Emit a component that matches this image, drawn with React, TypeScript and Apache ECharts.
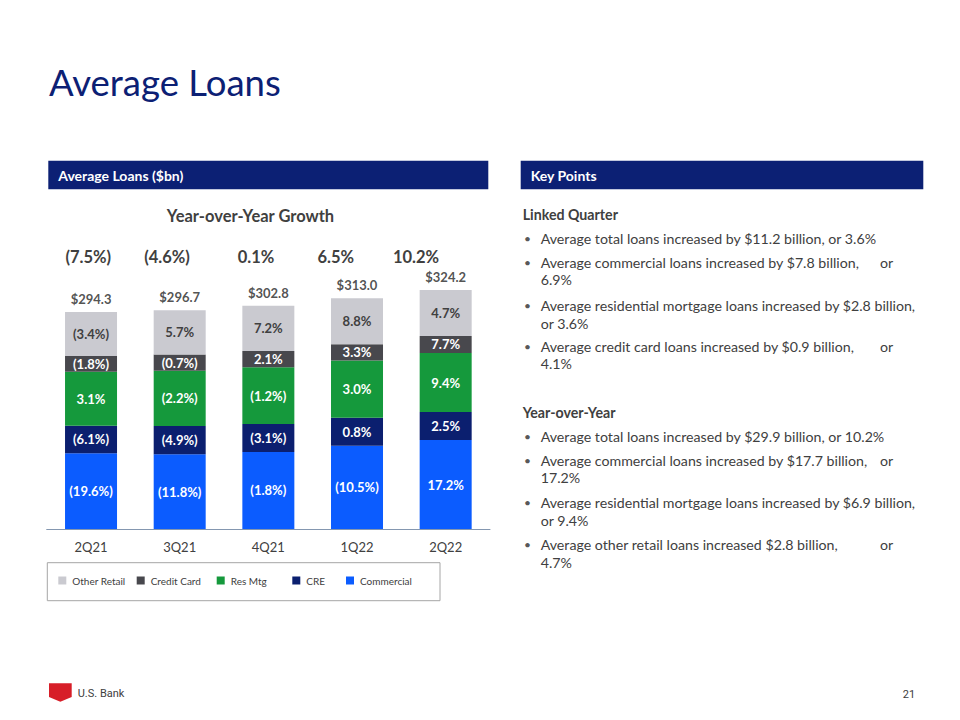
import React, { useEffect, useRef } from "react";
import * as echarts from "echarts";

const categories = ["2Q21", "3Q21", "4Q21", "1Q22", "2Q22"];
const commercial = [102.9, 101.5, 104.6, 112.8, 120.6];
const cre = [37.1, 38.2, 38.0, 38.3, 38.0];
const resMtg = [73.4, 75.0, 77.0, 77.5, 80.3];
const creditCard = [21.3, 22.2, 22.0, 22.0, 22.9];
const otherRetail = [59.6, 59.8, 61.2, 62.4, 62.4];
const totals = [294.3, 296.7, 302.8, 313.0, 324.2];

const commercialGrowth = ["(19.6%)", "(11.8%)", "(1.8%)", "(10.5%)", "17.2%"];
const creGrowth = ["(6.1%)", "(4.9%)", "(3.1%)", "0.8%", "2.5%"];
const resMtgGrowth = ["3.1%", "(2.2%)", "(1.2%)", "3.0%", "9.4%"];
const creditCardGrowth = ["(1.8%)", "(0.7%)", "2.1%", "3.3%", "7.7%"];
const otherRetailGrowth = ["(3.4%)", "5.7%", "7.2%", "8.8%", "4.7%"];
const totalGrowth = ["(7.5%)", "(4.6%)", "0.1%", "6.5%", "10.2%"];

const legendOrder = ["Other Retail", "Credit Card", "Res Mtg", "CRE", "Commercial"];

const linkedQuarterBullets = [
  { first: "Average total loans increased by $11.2 billion, or 3.6%", or: false, second: "" },
  { first: "Average commercial loans increased by $7.8 billion,", or: true, second: "6.9%" },
  { first: "Average residential mortgage loans increased by $2.8 billion,", or: false, second: "or 3.6%" },
  { first: "Average credit card loans increased by $0.9 billion,", or: true, second: "4.1%" },
];
const yoyBullets = [
  { first: "Average total loans increased by $29.9 billion, or 10.2%", or: false, second: "" },
  { first: "Average commercial loans increased by $17.7 billion,", or: true, second: "17.2%" },
  { first: "Average residential mortgage loans increased by $6.9 billion,", or: false, second: "or 9.4%" },
  { first: "Average other retail loans increased $2.8 billion,", or: true, second: "4.7%" },
];

const FONT = "Lato, 'Open Sans', sans-serif";
const NAVY = "#0C2074";
const TEXT = "#404040";

function txt(x: number, y: number, text: string, size: number, opts: any = {}) {
  return {
    type: "text",
    x,
    y,
    silent: true,
    style: {
      text,
      fontSize: size,
      fontFamily: opts.family || FONT,
      fontWeight: opts.bold ? "bold" : "normal",
      fill: opts.color || TEXT,
      textAlign: opts.align || "left",
      align: opts.align || "left",
      textVerticalAlign: "middle",
      verticalAlign: "middle",
    },
  };
}

export default function App() {
  const ref = useRef<HTMLDivElement>(null);

  useEffect(() => {
    if (!ref.current) return;
    const chart = echarts.init(ref.current, null, { renderer: "svg" });

    const defs = [
      { name: "Commercial", data: commercial, labels: commercialGrowth, color: "#0B5CFF", lc: "#ffffff" },
      { name: "CRE", data: cre, labels: creGrowth, color: "#0B1F6F", lc: "#ffffff" },
      { name: "Res Mtg", data: resMtg, labels: resMtgGrowth, color: "#15993C", lc: "#ffffff" },
      { name: "Credit Card", data: creditCard, labels: creditCardGrowth, color: "#48484D", lc: "#ffffff" },
      { name: "Other Retail", data: otherRetail, labels: otherRetailGrowth, color: "#CACAD0", lc: "#404040" },
    ];

    const series: any[] = defs.map((d) => ({
      name: d.name,
      type: "bar",
      stack: "total",
      barWidth: 52,
      data: d.data,
      itemStyle: { color: d.color },
      label: {
        show: true,
        position: "inside",
        formatter: (p: any) => d.labels[p.dataIndex],
        color: d.lc,
        fontFamily: FONT,
        fontWeight: "bold",
        fontSize: 13,
      },
      emphasis: { disabled: true },
    }));
    series.push({
      name: "Total",
      type: "scatter",
      data: totals,
      symbolSize: 1,
      itemStyle: { color: "rgba(0,0,0,0)" },
      label: {
        show: true,
        position: "top",
        distance: 6,
        formatter: (p: any) => "$" + totals[p.dataIndex].toFixed(1),
        color: "#262626",
        fontFamily: FONT,
        fontWeight: "bold",
        fontSize: 13,
      },
      emphasis: { disabled: true },
      z: 5,
    });

    const legendX = [58.3, 136.7, 216.7, 292.3, 346];
    const legends = legendOrder.map((n, i) => ({
      data: [n],
      left: legendX[i],
      top: 575.5,
      padding: 0,
      itemWidth: 8,
      itemHeight: 8,
      itemGap: 0,
      icon: "rect",
      selectedMode: false,
      textStyle: { fontSize: 10, color: TEXT, fontFamily: FONT, padding: [0, 0, 0, 1] },
    }));

    const growthX = [88.3, 167, 256, 335.7, 416];
    const graphics: any[] = [];
    graphics.push(txt(49, 82, "Average Loans", 36.5, { color: NAVY }));
    graphics.push({ type: "rect", shape: { x: 48.3, y: 160.7, width: 440, height: 28.5 }, style: { fill: NAVY }, silent: true });
    graphics.push({ type: "rect", shape: { x: 520.7, y: 160.7, width: 402.6, height: 28.5 }, style: { fill: NAVY }, silent: true });
    graphics.push(txt(58.3, 175, "Average Loans ($bn)", 14, { bold: true, color: "#ffffff" }));
    graphics.push(txt(530.7, 175, "Key Points", 14, { bold: true, color: "#ffffff" }));
    graphics.push(txt(250.5, 215.5, "Year-over-Year Growth", 16.5, { bold: true, align: "center" }));
    totalGrowth.forEach((g, i) => graphics.push(txt(growthX[i], 256.5, g, 16.5, { bold: true, align: "center" })));
    graphics.push({ type: "rect", shape: { x: 47.3, y: 562.7, width: 392.7, height: 38 }, style: { fill: "none", stroke: "#A6A6A6", lineWidth: 1 }, silent: true });

    const bodySize = 14.2;
    const addBlock = (headerY: number, header: string, bullets: any[], ys: number[][]) => {
      graphics.push(txt(522.7, headerY, header, bodySize, { bold: true }));
      bullets.forEach((b, i) => {
        graphics.push(txt(524, ys[i][0], "•", 12, { color: "#595959" }));
        graphics.push(txt(540.7, ys[i][0], b.first, bodySize));
        if (b.or) graphics.push(txt(880, ys[i][0], "or", bodySize));
        if (b.second) graphics.push(txt(540.7, ys[i][1], b.second, bodySize));
      });
    };
    addBlock(214.5, "Linked Quarter", linkedQuarterBullets, [[238.5], [262, 279.5], [305.5, 323], [346, 363.5]]);
    addBlock(412.5, "Year-over-Year", yoyBullets, [[436], [460, 477.5], [502.5, 520], [544.5, 562]]);

    graphics.push({
      type: "polygon",
      shape: { points: [[49, 683.3], [71.7, 683.3], [71.7, 697], [60.3, 701.7], [49, 697]] },
      style: { fill: "#D71E28" },
      silent: true,
    });
    graphics.push(txt(77.7, 693.3, "U.S. Bank", 11, { family: "'Liberation Sans Narrow', 'Arial Narrow', 'Roboto', sans-serif" }));
    graphics.push(txt(902.7, 694, "21", 11, { family: "'Liberation Sans Narrow', 'Arial Narrow', 'Roboto', sans-serif" }));

    chart.setOption({
      animation: false,
      backgroundColor: "#ffffff",
      grid: { left: 46.7, right: 470, top: 234.2, bottom: 191, containLabel: false },
      xAxis: {
        type: "category",
        data: categories,
        axisLine: { lineStyle: { color: "#8497B0", width: 1 } },
        axisTick: { show: false },
        axisLabel: { color: TEXT, fontSize: 13, fontFamily: FONT, margin: 11 },
      },
      yAxis: { type: "value", min: 0, max: 400, show: false },
      legend: legends,
      series,
      graphic: graphics,
    });

    return () => chart.dispose();
  }, []);

  return <div ref={ref} style={{ position: "absolute", left: 0, top: 0, width: 960, height: 720 }} />;
}
